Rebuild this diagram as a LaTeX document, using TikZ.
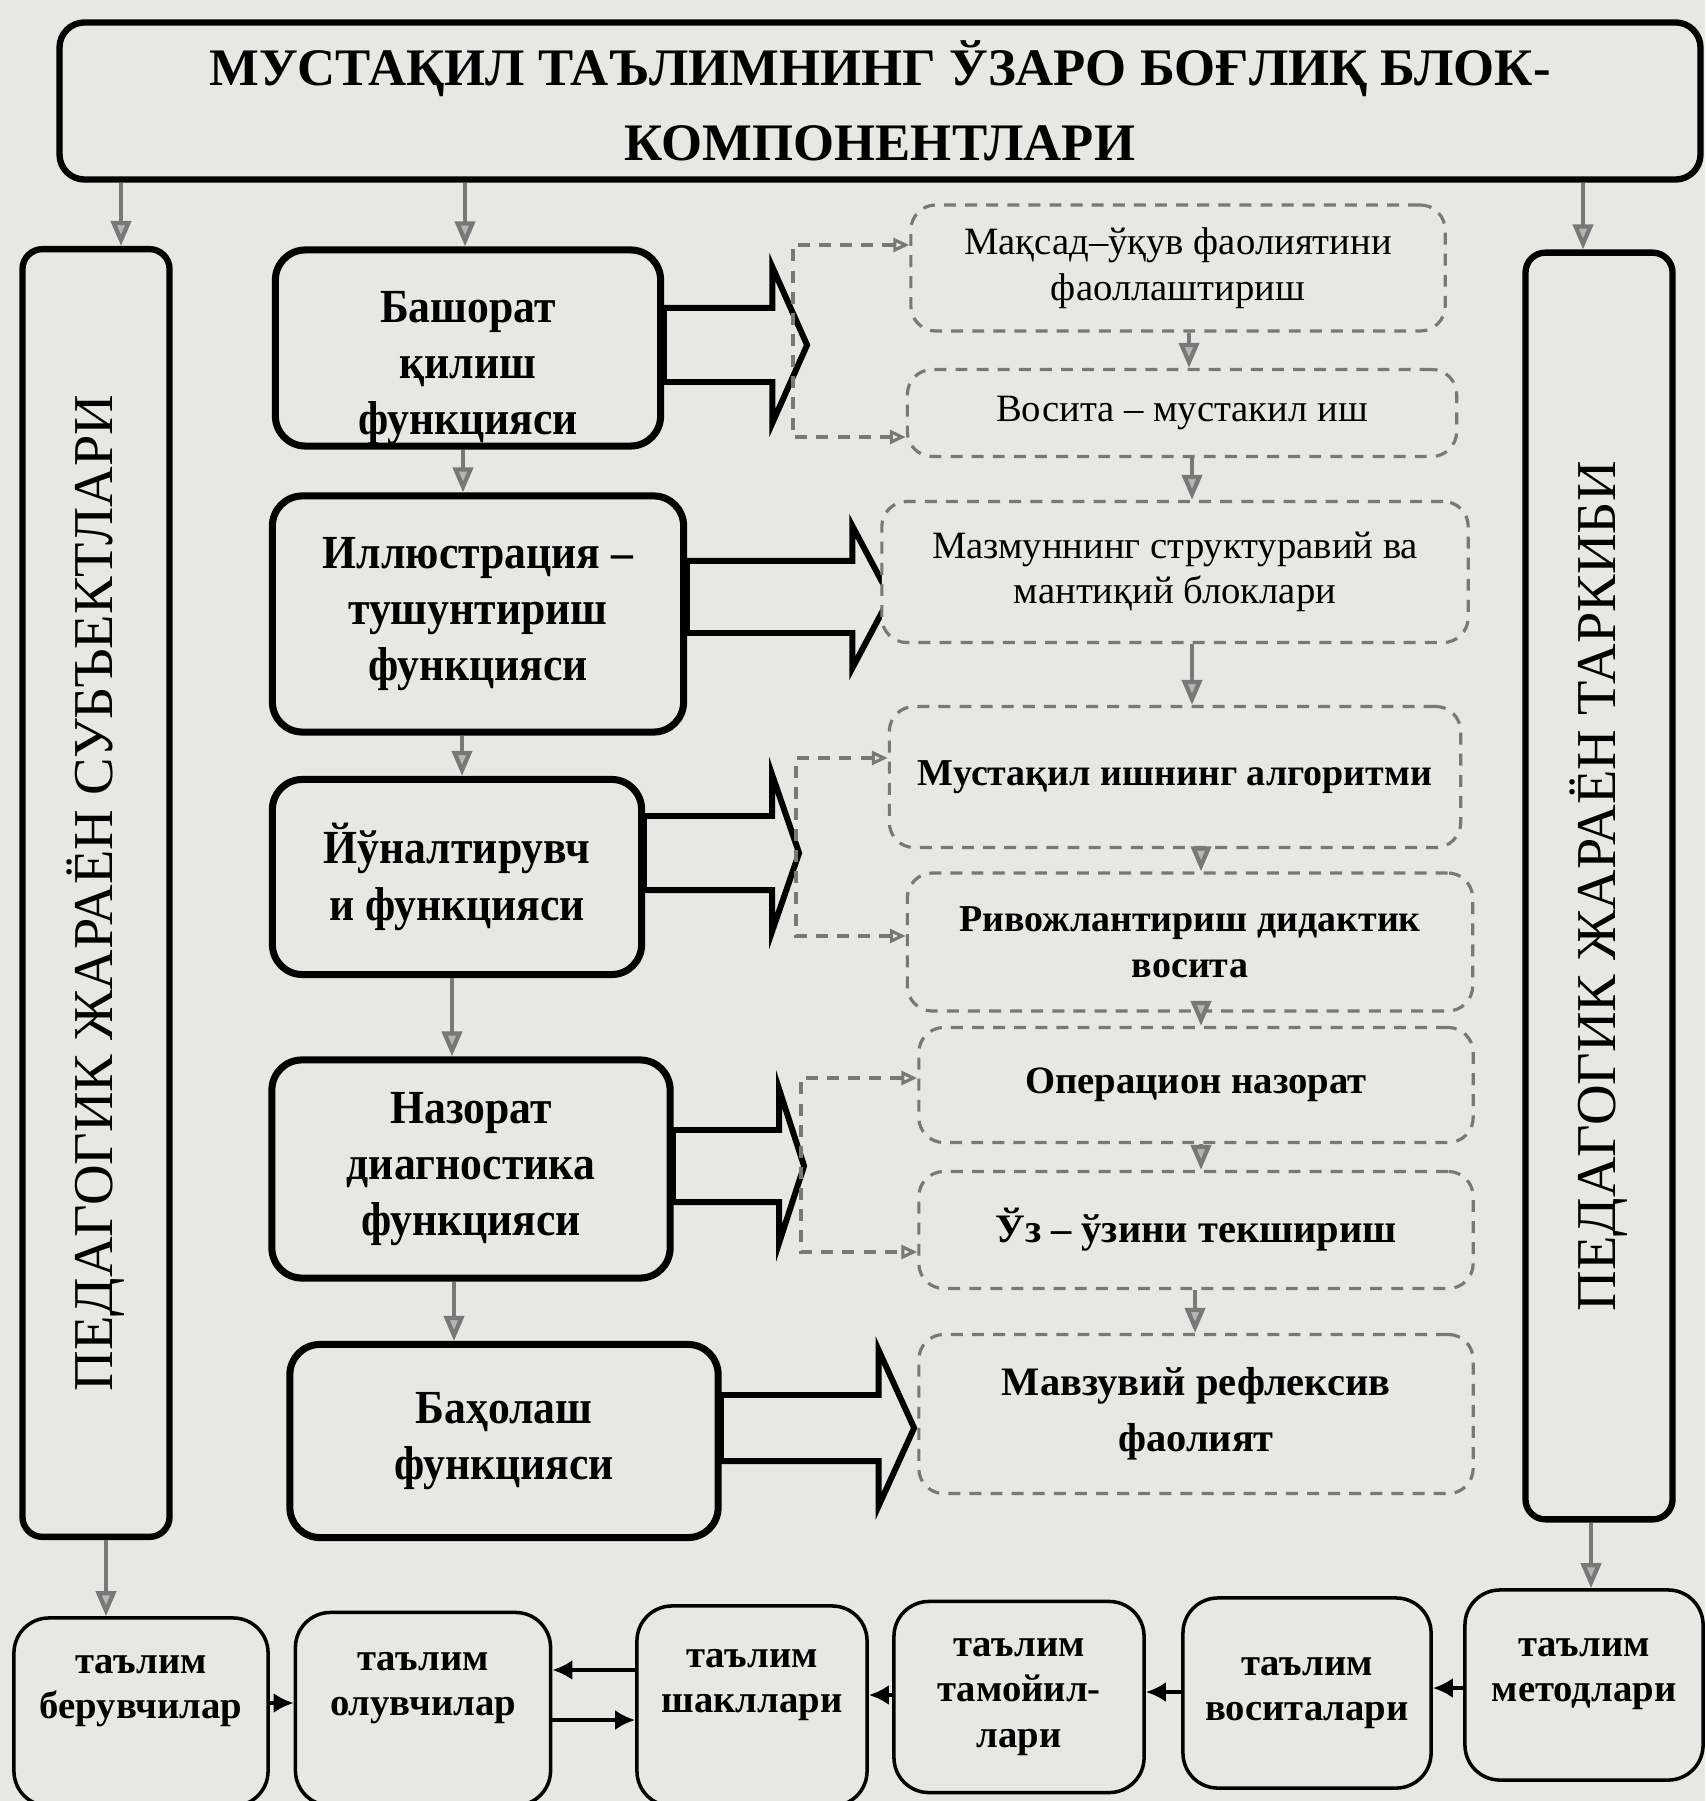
\documentclass[tikz,border=0pt]{standalone}
\usepackage{fontspec}
\setmainfont{Liberation Serif}
\newfontfamily\narrowserif[FakeStretch=0.92]{Liberation Serif}
\usetikzlibrary{arrows.meta}
\usetikzlibrary{shapes.arrows}
\definecolor{paper}{RGB}{231,232,227}
\definecolor{wire}{RGB}{120,120,120}

\begin{document}
\begin{tikzpicture}[x = 0.01cm, y = -0.01cm]
	\tikzstyle{titleStyle}=[draw, line width = 1.8pt, rounded corners = 0.25cm, fill = paper, align = center, font = \fontsize{15}{21.3}\selectfont\bfseries]
	\tikzstyle{sideStyle}=[draw, line width = 1.8pt, rounded corners = 0.2cm, fill = paper, minimum width = 1.47cm, font = \fontsize{16}{18}\selectfont]
	\tikzstyle{funcStyle}=[draw, line width = 2pt, rounded corners = 0.3cm, fill = paper, align = center, font = \fontsize{13.5}{16}\selectfont\narrowserif\bfseries]
	\tikzstyle{stageStyle}=[draw = wire, line width = 0.9pt, dash pattern = on 3.4pt off 2.6pt, rounded corners = 0.25cm, fill = paper, align = center, font = \fontsize{11}{13}\selectfont]
	\tikzstyle{partStyle}=[draw, line width = 1pt, rounded corners = 0.35cm, fill = paper, align = center, font = \fontsize{11}{13}\selectfont\bfseries]
	\tikzstyle{cutStyle}=[partStyle, text depth = 0.5cm]
	\tikzstyle{bigArrowStyle}=[single arrow, draw, line width = 1.7pt, fill = paper, inner xsep = 0pt, inner ysep = 0.34cm, anchor = tail, single arrow head extend = 0.41cm]
	\tikzstyle{grayArrowStyle}=[draw = wire, line width = 1.2pt, -{Triangle[length = 0.25cm, width = 0.2cm, fill = wire!55]}]
	\tikzstyle{dashArrowStyle}=[draw = wire, line width = 0.9pt, dash pattern = on 3.4pt off 2.6pt, {Triangle[open, length = 0.16cm, width = 0.14cm]}-{Triangle[open, length = 0.16cm, width = 0.14cm]}]
	\tikzstyle{rowArrowStyle}=[draw, line width = 1.4pt, -{Latex[length = 0.2cm, width = 0.2cm]}]
	\path[use as bounding box, fill = paper] (0,0) rectangle (1705,1801);
	\node[titleStyle, minimum width = 16.4cm, minimum height = 1.57cm] (title) at (880,101) {МУСТАҚИЛ ТАЪЛИМНИНГ ЎЗАРО БОҒЛИҚ БЛОК-\\КОМПОНЕНТЛАРИ};
	\node[sideStyle, minimum height = 12.87cm] (sl) at (96,893) {\rotatebox{90}{ПЕДАГОГИК ЖАРАЁН СУБЪЕКТЛАРИ}};
	\node[sideStyle, minimum height = 12.66cm] (sr) at (1599,886) {\rotatebox{90}{ПЕДАГОГИК ЖАРАЁН ТАРКИБИ}};
	\node[funcStyle, minimum width = 3.85cm, minimum height = 1.96cm, inner ysep = 0pt, text height = 1.84cm] (f1) at (468,348) {Башорат\\қилиш\\функцияси};
	\node[funcStyle, minimum width = 4.11cm, minimum height = 2.36cm] (f2) at (478,614) {Иллюстрация –\\тушунтириш\\функцияси};
	\node[funcStyle, minimum width = 3.69cm, minimum height = 1.95cm] (f3) at (457,877) {Йўналтирувч\\и функцияси};
	\node[funcStyle, minimum width = 3.98cm, minimum height = 2.18cm] (f4) at (471,1169) {Назорат\\диагностика\\функцияси};
	\node[funcStyle, minimum width = 4.28cm, minimum height = 1.93cm] (f5) at (504,1441) {Баҳолаш\\функцияси};
	\node[bigArrowStyle, minimum height = 1.43cm, single arrow tip angle = 132] (a1) at (661,345) {};
	\node[bigArrowStyle, minimum height = 2.03cm, inner ysep = 0.33cm, single arrow head extend = 0.35cm, single arrow tip angle = 124] (a2) at (684,597) {};
	\node[bigArrowStyle, minimum height = 1.55cm, single arrow tip angle = 142] (a3) at (641,853) {};
	\node[bigArrowStyle, minimum height = 1.31cm, inner ysep = 0.33cm, single arrow tip angle = 144] (a4) at (670,1166) {};
	\node[bigArrowStyle, minimum height = 1.93cm, inner ysep = 0.30cm, single arrow head extend = 0.45cm, single arrow tip angle = 131] (a5) at (718,1428) {};
	\node[stageStyle, minimum width = 5.34cm, minimum height = 1.26cm] (r1) at (1178,268) {Мақсад–ўқув фаолиятини\\фаоллаштириш};
	\node[stageStyle, minimum width = 5.49cm, minimum height = 0.87cm] (r2) at (1182,413) {Восита – мустакил иш};
	\node[stageStyle, minimum width = 5.86cm, minimum height = 1.41cm] (r3) at (1175,572) {Мазмуннинг структуравий ва\\мантиқий блоклари};
	\node[stageStyle, minimum width = 5.71cm, minimum height = 1.41cm, font = \fontsize{10.8}{13}\selectfont\bfseries] (r4) at (1175,777) {Мустақил ишнинг алгоритми};
	\node[stageStyle, minimum width = 5.65cm, minimum height = 1.38cm, font = \fontsize{10.8}{13}\selectfont\bfseries] (r5) at (1190,942) {Ривожлантириш дидактик\\восита};
	\node[stageStyle, minimum width = 5.54cm, minimum height = 1.15cm, font = \fontsize{11}{13}\selectfont\bfseries] (r6) at (1196,1085) {Операцион назорат};
	\node[stageStyle, minimum width = 5.54cm, minimum height = 1.17cm, font = \fontsize{11.5}{14}\selectfont\bfseries] (r7) at (1196,1230) {Ўз – ўзини текшириш};
	\node[stageStyle, minimum width = 5.54cm, minimum height = 1.59cm, font = \fontsize{11.5}{16}\selectfont\bfseries] (r8) at (1196,1414) {Мавзувий рефлексив\\фаолият};
	\node[cutStyle, minimum width = 2.54cm, minimum height = 1.88cm] (b1) at (141,1712) {таълим\\берувчилар};
	\node[cutStyle, minimum width = 2.55cm, minimum height = 1.93cm] (b2) at (423,1709) {таълим\\олувчилар};
	\node[cutStyle, minimum width = 2.30cm, minimum height = 2.00cm] (b3) at (752,1706) {таълим\\шакллари};
	\node[partStyle, minimum width = 2.50cm, minimum height = 1.91cm] (b4) at (1019,1697) {таълим\\тамойил-\\лари};
	\node[partStyle, minimum width = 2.48cm, minimum height = 1.90cm] (b5) at (1307,1693) {таълим\\воситалари};
	\node[partStyle, minimum width = 2.38cm, minimum height = 1.90cm, text depth = 0.3cm] (b6) at (1584,1685) {таълим\\методлари};
	\coordinate (g1t) at (793,245);
	\coordinate (g1b) at (793,437);
	\coordinate (g3t) at (796,758);
	\coordinate (g3b) at (796,936);
	\coordinate (g4t) at (801,1078);
	\coordinate (g4b) at (801,1252);
	\draw[dashArrowStyle] (r1.west |- g1t) -- (g1t) -- (g1b) -- (r2.west |- g1b);
	\draw[dashArrowStyle] (r4.west |- g3t) -- (g3t) -- (g3b) -- (r5.west |- g3b);
	\draw[dashArrowStyle] (r6.west |- g4t) -- (g4t) -- (g4b) -- (r7.west |- g4b);
	\draw[grayArrowStyle] (title.south -| 121,0) -- (sl.north -| 121,0);
	\draw[grayArrowStyle] (title.south -| 465,0) -- (f1.north -| 465,0);
	\draw[grayArrowStyle] (title.south -| 1583,0) -- (sr.north -| 1583,0);
	\draw[grayArrowStyle] (f1.south -| 463,0) -- (f2.north -| 463,0);
	\draw[grayArrowStyle] (f2.south -| 462,0) -- (f3.north -| 462,0);
	\draw[grayArrowStyle] (f3.south -| 452,0) -- (f4.north -| 452,0);
	\draw[grayArrowStyle] (f4.south -| 454,0) -- (f5.north -| 454,0);
	\draw[grayArrowStyle] (r1.south -| 1189,0) -- (r2.north -| 1189,0);
	\draw[grayArrowStyle] (r2.south -| 1192,0) -- (r3.north -| 1192,0);
	\draw[grayArrowStyle] (r3.south -| 1192,0) -- (r4.north -| 1192,0);
	\draw[grayArrowStyle] (r4.south -| 1201,0) -- (r5.north -| 1201,0);
	\draw[grayArrowStyle] (r5.south -| 1201,0) -- (r6.north -| 1201,0);
	\draw[grayArrowStyle] (r6.south -| 1201,0) -- (r7.north -| 1201,0);
	\draw[grayArrowStyle] (r7.south -| 1195,0) -- (r8.north -| 1195,0);
	\draw[grayArrowStyle] (sl.south -| 106,0) -- (b1.north -| 106,0);
	\draw[grayArrowStyle] (sr.south -| 1591,0) -- (b6.north -| 1591,0);
	\draw[rowArrowStyle] (b1.east |- 0,1703) -- (b2.west |- 0,1703);
	\draw[rowArrowStyle] (b3.west |- 0,1670) -- (b2.east |- 0,1670);
	\draw[rowArrowStyle] (b2.east |- 0,1720) -- (b3.west |- 0,1720);
	\draw[rowArrowStyle] (b4.west |- 0,1695) -- (b3.east |- 0,1695);
	\draw[rowArrowStyle] (b5.west |- 0,1692) -- (b4.east |- 0,1692);
	\draw[rowArrowStyle] (b6.west |- 0,1688) -- (b5.east |- 0,1688);
\end{tikzpicture}
\end{document}
